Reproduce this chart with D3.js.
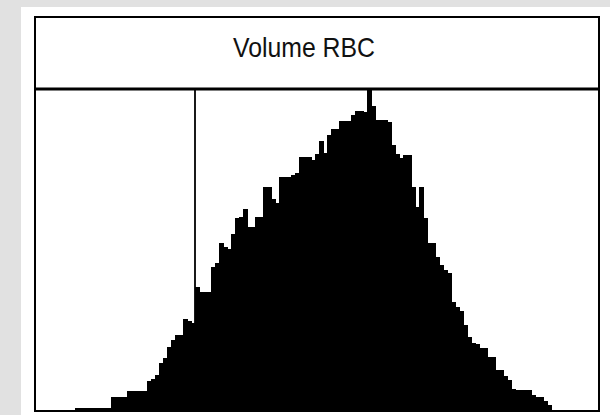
<!DOCTYPE html>
<html>
<head>
<meta charset="utf-8">
<script src="https://cdn.jsdelivr.net/npm/d3@7"></script>
<style>
  body { margin: 0; background: #e1e1e1; }
  svg { display: block; }
</style>
</head>
<body>
<svg id="chart" width="610" height="415"></svg>
<script>
// histogram channels (bin index) and counts
const firstBin = 10;
const counts = [
  1, 1, 1, 1, 1, 1, 1, 1, 1,                 // 10-18
  4.4, 4.4, 4.4, 4.4,                        // 19-22
  6.2, 6.2, 6.2, 6.2, 6.2,                   // 23-27
  9.3, 10, 11.2, 15, 16.5, 19.9, 22, 23.7, 23.7, 28.7, 28, 27.4, // 28-39
  38.6, 37.1, 37.1, 37.1, 44.9, 46, 52.3, 51, 50.5, 55,          // 40-49
  60.1, 60.5, 62.9, 57.3, 57.3, 60.4, 60.4, 69.8, 69.8, 66,      // 50-59
  64.8, 72.9, 72.9, 73, 73.5, 74, 79, 79.1, 79.1, 78.2,          // 60-69
  80, 84, 80.4, 86, 88, 88, 90.3, 90.3, 90.3, 92.2,              // 70-79
  93.5, 93.5, 93, 100, 95, 90.7, 90.7, 90.7, 90, 83,             // 80-89
  80, 78.8, 79.8, 79.8, 69.8, 63.6, 69.8, 60, 52.3, 52.3,        // 90-99
  48, 45.5, 44, 43, 34, 32.5, 31, 26.8, 23, 21.2,                // 100-109
  21, 19.6, 19.6, 16.8, 16.8, 12.8, 12.8, 11, 9.7, 7,            // 110-119
  6.5, 6.5, 6.5, 6.5, 5, 4.4, 4.4, 3, 1.9                        // 120-128
];
const bins = counts.map((c, k) => ({ bin: firstBin + k, count: c }));
const xDomain = [0, 141];
const yDomain = [0, 100];
const discriminator = 40;   // vertical cut line
const title = "Volume RBC";

const svg = d3.select("#chart");

// white panel
svg.append("rect")
  .attr("x", 21).attr("y", 7)
  .attr("width", 589).attr("height", 408)
  .attr("fill", "#ffffff");

const frameLeft = 35, frameRight = 599, frameTop = 17, titleBottom = 89, frameBottom = 411;

const x = d3.scaleLinear().domain(xDomain).range([frameLeft, frameRight]);
const y = d3.scaleLinear().domain(yDomain).range([frameBottom, titleBottom + 1]);

// bars
svg.append("g")
  .selectAll("rect")
  .data(bins)
  .join("rect")
    .attr("x", d => x(d.bin))
    .attr("width", d => x(d.bin + 1) - x(d.bin) + 0.5)
    .attr("y", d => y(d.count))
    .attr("height", d => frameBottom - y(d.count))
    .attr("fill", "#000")
    .attr("shape-rendering", "crispEdges");

// frame
svg.append("rect")
  .attr("x", frameLeft).attr("y", frameTop)
  .attr("width", frameRight - frameLeft).attr("height", frameBottom - frameTop)
  .attr("fill", "none")
  .attr("stroke", "#000")
  .attr("stroke-width", 2);

// title separator
svg.append("line")
  .attr("x1", frameLeft).attr("x2", frameRight)
  .attr("y1", titleBottom).attr("y2", titleBottom)
  .attr("stroke", "#000")
  .attr("stroke-width", 3);

// discriminator line
svg.append("line")
  .attr("x1", x(discriminator)).attr("x2", x(discriminator))
  .attr("y1", titleBottom).attr("y2", frameBottom)
  .attr("stroke", "#000")
  .attr("stroke-width", 1.8);

// title (narrow bitmap-like font in the original)
svg.append("text")
  .attr("x", 304)
  .attr("y", 57)
  .attr("text-anchor", "middle")
  .attr("font-family", "'Liberation Sans', Arial, sans-serif")
  .attr("font-size", "28px")
  .attr("textLength", 142)
  .attr("lengthAdjust", "spacingAndGlyphs")
  .attr("fill", "#111")
  .text(title);
</script>
</body>
</html>
